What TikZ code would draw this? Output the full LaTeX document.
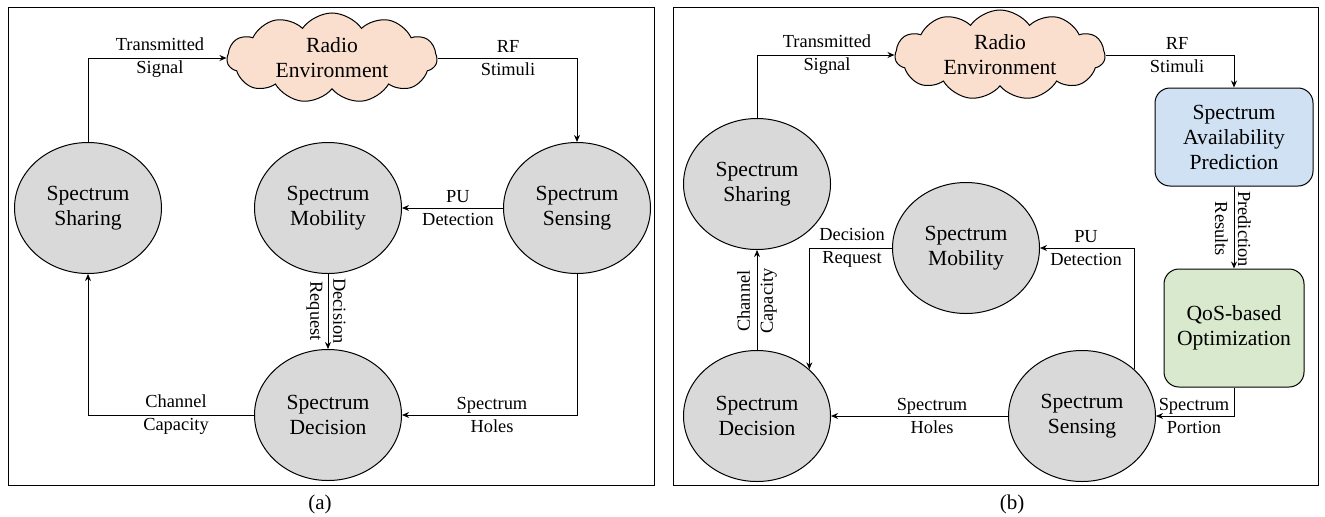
\documentclass[tikz,border=0pt]{standalone}
\usepackage{fontspec}
\setmainfont{Liberation Serif}
\usepackage{xcolor}
\usepackage{tikz}
\usetikzlibrary{positioning, shapes, arrows.meta, calc}

\definecolor{stategray}{RGB}{217,217,217}
\definecolor{cloudpeach}{RGB}{251,223,206}
\definecolor{predblue}{RGB}{207,225,242}
\definecolor{qosgreen}{RGB}{217,233,205}

\begin{document}
\begin{tikzpicture}[x=0.5pt, y=0.5pt,
          state/.style={ellipse, draw, line width=0.5pt, fill=stategray, minimum width=73.5pt, minimum height=65.5pt, inner sep=0pt, align=center, font=\fontsize{10.8}{12.5}\selectfont},
          env/.style={cloud, cloud puffs=11, cloud puff arc=110, aspect=2.3, draw, line width=0.5pt, fill=cloudpeach, minimum width=105pt, minimum height=45pt, inner sep=0pt, align=center, font=\fontsize{10.8}{12.5}\selectfont},
          block/.style={rectangle, rounded corners=7.5pt, draw, line width=0.5pt, inner sep=0pt, align=center, font=\fontsize{10.8}{12.5}\selectfont},
          lbl/.style={align=center, inner sep=0pt, font=\fontsize{9.2}{11.5}\selectfont},
          arr/.style={-{Stealth[length=3.5pt, width=3pt]}, line width=0.5pt},
          panel/.style={draw, line width=0.5pt}]
          \useasboundingbox (0,0) rectangle (1325,516);

          % (a)
          \draw[panel] (8,31) rectangle (654,509);
          \node[env] (cloudA) at (332,458) {Radio\\Environment};
          \node[state] (shareA) at (88,308) {Spectrum\\Sharing};
          \node[state] (mobA) at (328,308) {Spectrum\\Mobility};
          \node[state] (senseA) at (577,308) {Spectrum\\Sensing};
          \node[state] (decA) at (328,101) {Spectrum\\Decision};

          \draw[arr] (shareA.north) |- (cloudA.west);
          \draw[arr] (cloudA.east) -| (senseA.north);
          \draw[arr] (senseA.west) -- (mobA.east);
          \draw[arr] (mobA.south) -- (decA.north);
          \draw[arr] (senseA.south) |- (decA.east);
          \draw[arr] (decA.west) -| (shareA.south);

          \node[lbl] (tsA) at (160,458) {Transmitted\\Signal};
          \node[lbl] (rfA) at (508,458) {RF\\Stimuli};
          \node[lbl] (puA) at (458,308) {PU\\Detection};
          \node[lbl, rotate=-90] (drA) at (326,205) {Decision\\Request};
          \node[lbl] (shA) at (492,101) {Spectrum\\Holes};
          \node[lbl] (ccA) at (176,101) {Channel\\Capacity};
          \node[lbl, font=\fontsize{10.5}{12}\selectfont] (capA) at (320,12) {(a)};

          % (b)
          \draw[panel] (673,31) rectangle (1318,509);
          \node[env] (cloudB) at (1000,461) {Radio\\Environment};
          \node[state] (shareB) at (757,332) {Spectrum\\Sharing};
          \node[state] (mobB) at (966,268) {Spectrum\\Mobility};
          \node[state] (decB) at (757,100) {Spectrum\\Decision};
          \node[state] (senseB) at (1082,100) {Spectrum\\Sensing};
          \node[block, fill=predblue, minimum width=79pt, minimum height=49pt] (predB) at (1234,379) {Spectrum\\Availability\\Prediction};
          \node[block, fill=qosgreen, minimum width=70pt, minimum height=59pt] (qosB) at (1234,188) {QoS-based\\Optimization};

          \draw[arr] (shareB.north) |- (cloudB.west);
          \draw[arr] (cloudB.east) -| (predB.north);
          \draw[arr] (predB.south) -- (qosB.north);
          \draw[arr] (qosB.south) |- (senseB.east);
          \draw[arr] (senseB.north east) |- (mobB.east);
          \draw[arr] (mobB.west) -| (decB.north east);
          \draw[arr] (senseB.west) -- (decB.east);
          \draw[arr] (decB.north) -- (shareB.south);

          \node[lbl] (tsB) at (827,461) {Transmitted\\Signal};
          \node[lbl] (rfB) at (1177,461) {RF\\Stimuli};
          \node[lbl, rotate=-90] (prB) at (1233,287) {Prediction\\Results};
          \node[lbl] (spB) at (1194,100) {Spectrum\\Portion};
          \node[lbl] (puB) at (1086,268) {PU\\Detection};
          \node[lbl] (drB) at (852,268) {Decision\\Request};
          \node[lbl] (shB) at (932,100) {Spectrum\\Holes};
          \node[lbl, rotate=90] (ccB) at (757,215) {Channel\\Capacity};
          \node[lbl, font=\fontsize{10.5}{12}\selectfont] (capB) at (1012,12) {(b)};
        \end{tikzpicture}
\end{document}
